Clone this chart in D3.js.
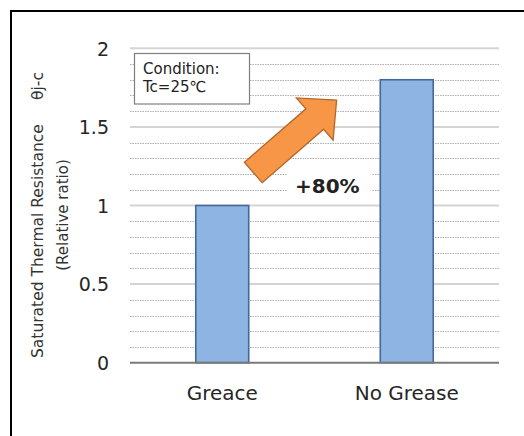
<!DOCTYPE html>
<html>
<head>
<meta charset="utf-8">
<script src="https://cdn.jsdelivr.net/npm/d3@7"></script>
<style>
  html, body { margin: 0; padding: 0; background: #fff; }
  svg { display: block; }
  text { font-family: "DejaVu Sans", Verdana, sans-serif; }
</style>
</head>
<body>
<svg id="chart" width="524" height="436"></svg>
<script>
// ---- data ----
const categories = ["Greace", "No Grease"];
const values = [1.0, 1.8];
const yTicks = [0, 0.5, 1, 1.5, 2];
const yTickLabels = ["0", "0.5", "1", "1.5", "2"];
const yTitleMain = "Saturated Thermal Resistance";
const yTitleSymbol = "\u03B8j-c";
const yTitleSub = "(Relative ratio)";
const conditionLines = ["Condition:", "Tc=25\u2103"];
const increaseLabel = "+80%";
// arrow annotation, in (fraction of plot width, y value)
const arrowTail = [0.334, 1.21];
const arrowTip = [0.560, 1.671];

// ---- layout ----
const svg = d3.select("#chart");
const plot = { left: 130, right: 499, top: 48.3, bottom: 362.7 };

const x = d3.scaleBand().domain(categories)
  .range([plot.left, plot.right])
  .paddingInner(0.713).paddingOuter(0.3565);
const y = d3.scaleLinear().domain([0, 2]).range([plot.bottom, plot.top]);
const xf = d3.scaleLinear().domain([0, 1]).range([plot.left, plot.right]);

// outer frame
svg.append("rect").attr("x", 11).attr("y", 11).attr("width", 600).attr("height", 600)
  .attr("fill", "none").attr("stroke", "#000").attr("stroke-width", 2);

// minor gridlines
const minor = d3.range(1, 20).map(d => d / 10).filter(d => Math.abs(d * 2 - Math.round(d * 2)) > 1e-6);
svg.append("g").selectAll("line").data(minor).join("line")
  .attr("x1", plot.left).attr("x2", plot.right)
  .attr("y1", d => Math.round(y(d)) + 0.5).attr("y2", d => Math.round(y(d)) + 0.5)
  .attr("stroke", "#b0b0b0").attr("stroke-width", 1).attr("stroke-dasharray", "1.5,1");

// major gridlines
svg.append("g").selectAll("line").data(yTicks.filter(d => d > 0)).join("line")
  .attr("x1", plot.left).attr("x2", plot.right)
  .attr("y1", d => y(d)).attr("y2", d => y(d))
  .attr("stroke", "#d4d4d4").attr("stroke-width", 2);

// y axis tick labels
const yAxis = d3.axisLeft(y).tickValues(yTicks).tickFormat((d, i) => yTickLabels[i]).tickSize(0).tickPadding(0);
const ya = svg.append("g").attr("transform", `translate(${plot.left - 21},0)`).call(yAxis);
ya.select(".domain").remove();
ya.selectAll("text").attr("font-size", 19).attr("fill", "#262626")
  .attr("font-family", "'DejaVu Sans', Verdana, sans-serif").attr("dy", "0.36em");

// bars
svg.append("g").selectAll("rect").data(values).join("rect")
  .attr("x", (d, i) => x(categories[i]))
  .attr("y", d => y(d))
  .attr("width", x.bandwidth())
  .attr("height", d => y(0) - y(d))
  .attr("fill", "#8eb4e3").attr("stroke", "#44689a").attr("stroke-width", 1.6);

// baseline
svg.append("line").attr("x1", plot.left).attr("x2", plot.right)
  .attr("y1", y(0)).attr("y2", y(0)).attr("stroke", "#7a7a7a").attr("stroke-width", 2);

// x axis labels
const xAxis = d3.axisBottom(x).tickSize(0).tickPadding(0);
const xa = svg.append("g").attr("transform", `translate(0,${y(0)})`).call(xAxis);
xa.select(".domain").remove();
xa.selectAll("text").attr("font-size", 20).attr("fill", "#262626")
  .attr("font-family", "'DejaVu Sans', Verdana, sans-serif").attr("dy", 0).attr("y", 37);

// y title
const yt1 = svg.append("text")
  .attr("transform", "translate(42.5,358) rotate(-90)")
  .attr("text-anchor", "start").attr("font-size", 15.5).attr("fill", "#333");
yt1.append("tspan").attr("x", 0).text(yTitleMain);
yt1.append("tspan").attr("x", 258).text(yTitleSymbol);
svg.append("text")
  .attr("transform", "translate(68,215) rotate(-90)")
  .attr("text-anchor", "middle").attr("font-size", 15).attr("fill", "#333")
  .text(yTitleSub);

// condition box
const cb = svg.append("g");
cb.append("rect").attr("x", 134.5).attr("y", 53.5).attr("width", 115).attr("height", 50.5)
  .attr("fill", "#fff").attr("stroke", "#7f7f7f").attr("stroke-width", 1.2);
conditionLines.forEach((t, i) => {
  cb.append("text").attr("x", 143).attr("y", 74 + i * 17.5)
    .attr("font-size", 15).attr("fill", "#222").text(t);
});

// +80% label with white background
svg.append("rect").attr("x", 287).attr("y", 163).attr("width", 85).attr("height", 36).attr("fill", "#fff");
svg.append("text").attr("x", 295).attr("y", 193).attr("font-size", 20).attr("font-weight", "bold")
  .attr("fill", "#222").text(increaseLabel);

// arrow
const tx = xf(arrowTail[0]), ty = y(arrowTail[1]);
const hx = xf(arrowTip[0]), hy = y(arrowTip[1]);
const dx = hx - tx, dy = hy - ty, L = Math.hypot(dx, dy);
const ux = dx / L, uy = dy / L, nx = -uy, ny = ux;
const sw = 13.5, hl = 29, hw = 28;
const bx = hx - ux * hl, by = hy - uy * hl;
const pts = [
  [tx + nx * sw, ty + ny * sw],
  [bx + nx * sw, by + ny * sw],
  [bx + nx * hw, by + ny * hw],
  [hx, hy],
  [bx - nx * hw, by - ny * hw],
  [bx - nx * sw, by - ny * sw],
  [tx - nx * sw, ty - ny * sw]
];
svg.append("path").attr("d", d3.line()(pts) + "Z")
  .attr("fill", "#f79646").attr("stroke", "#b5672a").attr("stroke-width", 1.3)
  .attr("stroke-linejoin", "miter");
</script>
</body>
</html>
